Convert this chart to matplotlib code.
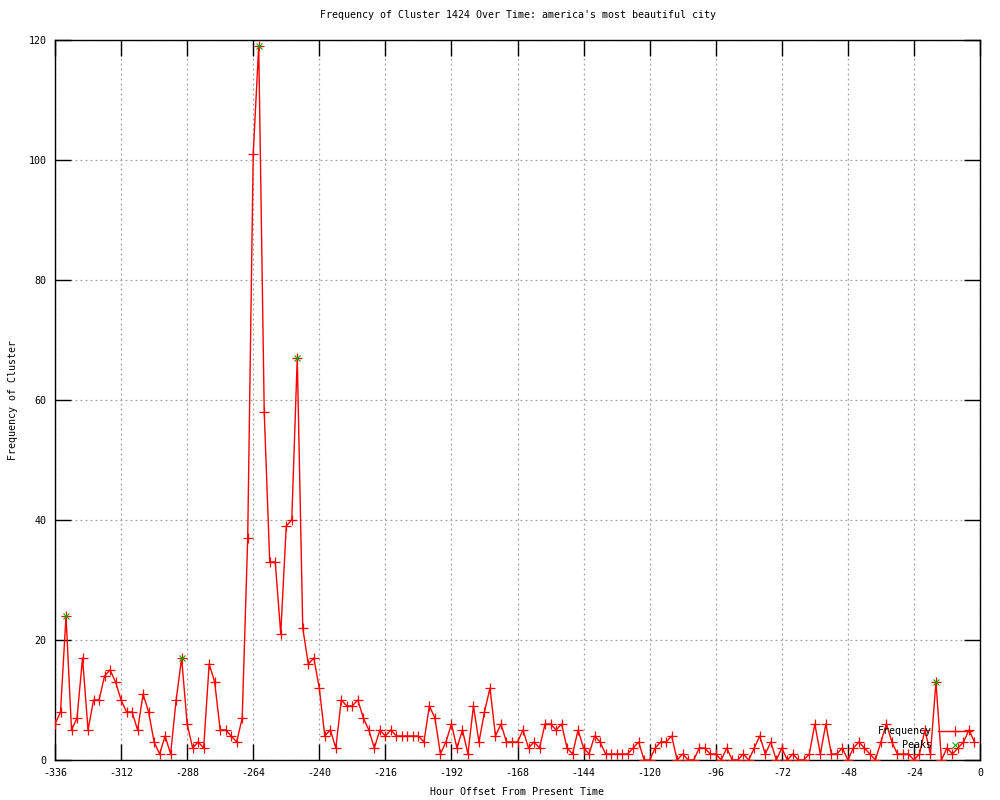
import matplotlib
matplotlib.use("Agg")
import matplotlib.pyplot as plt
from matplotlib.ticker import FixedLocator

plt.rcParams['font.family'] = ['DejaVu Sans Mono']

title = "Frequency of Cluster 1424 Over Time: america's most beautiful city"
x_label = "Hour Offset From Present Time"
y_label = "Frequency of Cluster"

hours = list(range(-336, 0, 2))
frequency = [
    6, 8, 24, 5, 7, 17, 5, 10, 10, 14, 15, 13, 10, 8, 8, 5, 11, 8, 3, 1,
    4, 1, 10, 17, 6, 2, 3, 2, 16, 13, 5, 5, 4, 3, 7, 37, 101, 119, 58, 33,
    33, 21, 39, 40, 67, 22, 16, 17, 12, 4, 5, 2, 10, 9, 9, 10, 7, 5, 2, 5,
    4, 5, 4, 4, 4, 4, 4, 3, 9, 7, 1, 3, 6, 2, 5, 1, 9, 3, 8, 12,
    4, 6, 3, 3, 3, 5, 2, 3, 2, 6, 6, 5, 6, 2, 1, 5, 2, 1, 4, 3,
    1, 1, 1, 1, 1, 2, 3, 0, 0, 2, 3, 3, 4, 0, 1, 0, 0, 2, 2, 1,
    1, 0, 2, 0, 0, 1, 0, 2, 4, 1, 3, 0, 2, 0, 1, 0, 0, 1, 6, 1,
    6, 1, 1, 2, 0, 2, 3, 2, 1, 0, 3, 6, 3, 1, 1, 1, 0, 1, 5, 1,
    13, 0, 2, 1, 2, 3, 5, 3,
]
peak_hours = [-332, -290, -262, -248, -16]
peak_values = [24, 17, 119, 67, 13]

x_ticks = list(range(-336, 1, 24))
y_ticks = list(range(0, 121, 20))

fig = plt.figure(figsize=(10, 8), dpi=100)
ax = fig.add_axes([0.055, 0.05, 0.925, 0.90])

ax.plot(hours, frequency, color='#ff0000', linewidth=1.0, marker='+',
        markersize=7, markeredgewidth=0.9, label='Frequency', zorder=3)
ax.plot(peak_hours, peak_values, linestyle='none', color='#00b000', marker='x',
        markersize=5, markeredgewidth=0.8, label='Peaks', zorder=4)

ax.set_xlim(-336, 0)
ax.set_ylim(0, 120)
ax.xaxis.set_major_locator(FixedLocator(x_ticks))
ax.yaxis.set_major_locator(FixedLocator(y_ticks))
ax.set_xticklabels([str(v) for v in x_ticks])
ax.set_yticklabels([str(v) for v in y_ticks])

ax.tick_params(direction='in', length=11.5, width=1.0, top=True, right=True,
               labelsize=7.2, pad=6, colors='black')
ax.grid(True, color='#a0a0a0', linestyle=(0, (1.5, 2.5)), linewidth=0.9)
ax.set_axisbelow(True)
for s in ax.spines.values():
    s.set_linewidth(1.0)
    s.set_color('black')

ax.set_title(title, fontsize=7.2, pad=16)
ax.set_xlabel(x_label, fontsize=7.2, labelpad=6)
ax.set_ylabel(y_label, fontsize=7.2, labelpad=8)

leg = ax.legend(loc='center right', bbox_to_anchor=(0.991, 0.030),
                frameon=False, markerfirst=False, fontsize=7.2,
                handlelength=3.4, handletextpad=0.6, labelspacing=0.4,
                borderpad=0, borderaxespad=0, numpoints=1)

fig.savefig('out.png', dpi=100)
